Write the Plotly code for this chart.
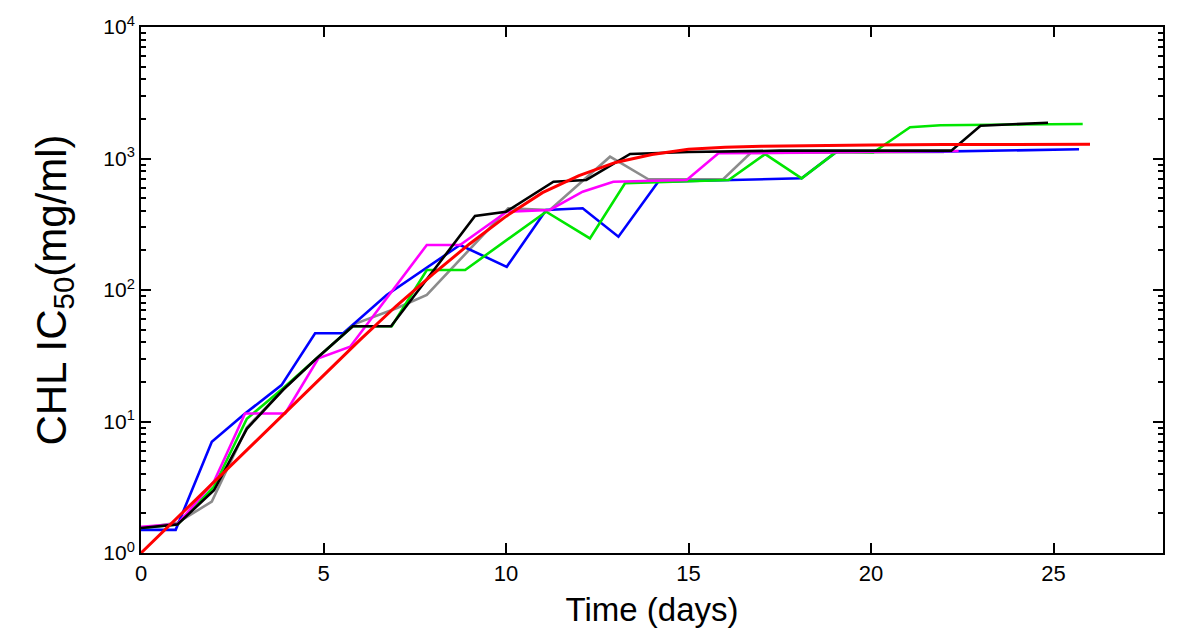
import plotly.graph_objects as go

# ---------------- data ----------------
days_gray = [0, 1, 1.94, 2.9, 3.9, 4.8, 5.9, 7.0, 7.83, 10.06, 11.2, 12.85, 13.9, 15.95, 16.7, 22.0]
ic50_gray = [1.55, 1.7, 2.46, 9.0, 17.5, 30, 55.8, 72.6, 91.6, 418, 406, 1032, 695, 695, 1100, 1120]

days_blue = [0, 0.95, 1.94, 2.85, 3.85, 4.77, 5.54, 6.73, 8.74, 10.02, 11.1, 12.1, 13.08, 14.17, 18.1, 19.06, 21.8, 25.7]
ic50_blue = [1.5, 1.5, 7.0, 11.5, 18.9, 46.9, 46.9, 91.6, 220, 150, 406, 418, 254, 666, 707, 1127, 1127, 1175]

days_green = [0, 1, 2, 2.9, 3.9, 4.8, 5.8, 6.87, 7.83, 8.88, 11.1, 12.3, 13.26, 16.1, 17.1, 18.1, 19.06, 20.06, 21.07, 21.9, 25.8]
ic50_green = [1.55, 1.65, 3.2, 10.5, 18, 30, 53, 53, 142, 142, 394, 247, 648, 687, 1080, 707, 1127, 1110, 1727, 1792, 1830]

days_magenta = [0, 1, 2, 2.85, 3.95, 4.86, 5.73, 7.83, 8.74, 10.02, 11.2, 12.1, 12.94, 14.95, 15.82, 22.4]
ic50_magenta = [1.58, 1.66, 3.5, 11.5, 11.5, 30.2, 37, 220, 220, 394, 406, 559, 666, 687, 1095, 1140]

days_black = [0, 1, 2, 2.9, 3.9, 4.8, 5.8, 6.85, 9.15, 10.0, 11.3, 12.2, 13.4, 15.0, 17.5, 22.2, 23.0, 24.85]
ic50_black = [1.55, 1.65, 3.0, 8.8, 17.5, 30, 53, 53, 365, 394, 666, 687, 1082, 1120, 1147, 1147, 1775, 1872]

days_red = [0, 1, 2, 3, 4, 5, 6, 7, 8, 9, 10, 11, 12, 13, 14, 15, 16, 17, 18, 20, 22, 26.0]
ic50_red = [1, 1.86, 3.47, 6.46, 12.0, 22.4, 41.7, 75.9, 132, 224, 363, 550, 741, 933, 1072, 1175,
            1216, 1239, 1253, 1268, 1276, 1282]

x_ticks = [0, 5, 10, 15, 20, 25]
y_ticks = [1, 10, 100, 1000, 10000]
y_ticktext = ["10<sup>0</sup>", "10<sup>1</sup>", "10<sup>2</sup>", "10<sup>3</sup>", "10<sup>4</sup>"]
y_minor = [m * 10 ** k for k in range(4) for m in range(2, 10)]

series = [
    (days_gray, ic50_gray, "#8c8c8c", 2.6),
    (days_blue, ic50_blue, "#0000ff", 2.6),
    (days_green, ic50_green, "#00e600", 2.6),
    (days_magenta, ic50_magenta, "#ff00ff", 2.6),
    (days_black, ic50_black, "#000000", 2.6),
    (days_red, ic50_red, "#ff0000", 3.0),
]

fig = go.Figure()
for xs, ys, col, w in series:
    fig.add_trace(go.Scatter(x=xs, y=ys, mode="lines",
                             line=dict(color=col, width=w), showlegend=False))

font_family = "Liberation Sans, Arial, sans-serif"
# page body has an 8px margin, so the figure is drawn 8px right/down
fig.update_layout(
    width=1192, height=629,
    margin=dict(l=133, r=37, t=19, b=84, autoexpand=False),
    paper_bgcolor="white", plot_bgcolor="white",
    font=dict(family=font_family, color="black"),
)
fig.update_xaxes(
    range=[0, 28], tickmode="array", tickvals=x_ticks,
    ticks="inside", ticklen=10, tickwidth=2, tickcolor="black",
    showline=True, linecolor="black", linewidth=2, mirror="ticks",
    showgrid=False, zeroline=False,
    tickfont=dict(size=22, family=font_family),
    title=dict(text="Time (days)", font=dict(size=33, family=font_family), standoff=12),
)
fig.update_yaxes(
    type="log", range=[0, 4], tickmode="array", tickvals=y_ticks, ticktext=y_ticktext,
    ticks="inside", ticklen=10, tickwidth=2, tickcolor="black",
    minor=dict(tickmode="array", tickvals=y_minor, ticks="inside", ticklen=5,
               tickwidth=1.5, tickcolor="black", showgrid=False),
    showline=True, linecolor="black", linewidth=2, mirror="ticks",
    showgrid=False, zeroline=False,
    tickfont=dict(size=21, family=font_family),
    title=dict(text="CHL IC<sub>50</sub>(mg/ml)", font=dict(size=42, family=font_family), standoff=24),
)

fig.write_html("out.html")
